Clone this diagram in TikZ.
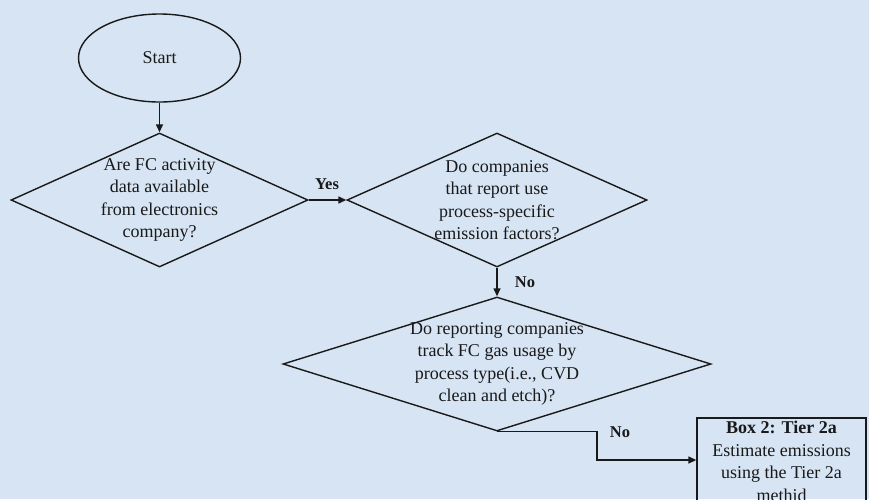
\documentclass[tikz,border=0pt]{standalone}
\usepackage{fontspec}
\setmainfont{Liberation Serif}
\usetikzlibrary{shapes.geometric,arrows.meta}
\definecolor{bg}{RGB}{214,228,243}
\definecolor{ink}{RGB}{25,25,25}
\begin{document}
\begin{tikzpicture}[x=1pt,y=-1pt,
  line/.style={draw=ink, line width=1.4pt},
  arr/.style={line, -{Triangle[length=8pt,width=7pt]}},
  dia/.style={diamond, draw=ink, line width=1.4pt, inner sep=0pt},
  qtext/.style={align=center, font=\fontsize{18}{22.5}\selectfont, text=ink, inner sep=0pt},
  lbl/.style={font=\fontsize{16.5}{20}\selectfont\bfseries, text=ink, inner sep=0pt},
]
\fill[bg] (0,0) rectangle (869,499);
\useasboundingbox (0,0) rectangle (869,499);
\begin{scope}
\clip (0,0) rectangle (869,499);
% start
\node[ellipse, draw=ink, line width=1.4pt, minimum width=162pt, minimum height=88pt, inner sep=0pt] (start) at (159.5,58) {};
\node[qtext] (starttext) at (start) {Start};
% decisions
\node[dia, minimum width=297pt, minimum height=134pt] (d1) at (159.5,200) {};
\node[qtext] (d1text) at (d1) {Are FC activity\\data available\\from electronics\\company?};
\node[dia, minimum width=300pt, minimum height=134pt] (d2) at (497,200) {};
\node[qtext] (d2text) at (d2) {Do companies\\that report use\\process-specific\\emission factors?};
\node[dia, minimum width=428pt, minimum height=134pt] (d3) at (497,364) {};
\node[qtext] (d3text) at (d3) {Do reporting companies\\track FC gas usage by\\process type(i.e., CVD\\clean and etch)?};
% box
\node[rectangle, draw=ink, line width=1.4pt, minimum width=169pt, minimum height=84pt, inner sep=0pt] (box) at (781.5,460) {};
\node[qtext, anchor=north] (boxtext) at (781.5,421) {\textbf{Box 2: Tier 2a}\\Estimate emissions\\using the Tier 2a\\methid};
% connectors
\draw[arr] (start.south) -- (d1.north);
\draw[arr] (d1.east) -- (d2.west);
\node[lbl] (yes) at (327,184) {Yes};
\draw[arr] (d2.south) -- (d3.north);
\node[lbl] (no1) at (525,282) {No};
\draw[arr] (d3.south) -- ++(100,0) |- (box.west);
\node[lbl] (no2) at (620,432) {No};
\end{scope}
\end{tikzpicture}
\end{document}
